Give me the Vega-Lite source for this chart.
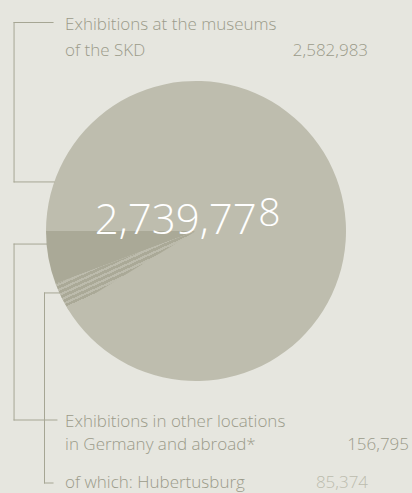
{
  "$schema": "https://vega.github.io/schema/vega-lite/v6.json",
  "width": 300,
  "height": 300,
  "autosize": {"type": "none"},
  "padding": {"left": 46, "top": 81, "right": 66, "bottom": 112},
  "background": "#e6e6df",
  "config": {
    "view": {"stroke": null},
    "axis": {"disable": true},
    "text": {"font": "Open Sans", "fontSize": 17, "fontWeight": 300, "color": "#9b9b8a", "baseline": "alphabetic", "align": "left"},
    "rule": {"color": "#a6a694", "strokeWidth": 1, "strokeCap": "square"}
  },
  "datasets": {
    "visitors": [
      {"cat": "Exhibitions at the museums of the SKD", "v": 2582983},
      {"cat": "Exhibitions in other locations in Germany and abroad*", "v": 156795}
    ],
    "hub": [
      {"cat": "Exhibitions in other locations in Germany and abroad*", "v": 156795},
      {"cat": "of which: Hubertusburg", "v": 85374}
    ]
  },
  "layer": [
    {
      "data": {"name": "visitors"},
      "mark": {"type": "arc"},
      "encoding": {
        "theta": {"field": "v", "type": "quantitative", "stack": true, "scale": {"range": [4.71238898, -1.57079633]}},
        "color": {"field": "cat", "type": "nominal", "legend": null,
          "scale": {"domain": ["Exhibitions at the museums of the SKD", "Exhibitions in other locations in Germany and abroad*"], "range": ["#bebdae", "#aaa997"]}},
        "order": {"field": "v", "sort": "ascending"}
      }
    },
    {
      "data": {"name": "hub"},
      "mark": {"type": "arc", "fill": {
        "gradient": "linear", "x1": 0.322, "y1": 0.402, "x2": 0.527, "y2": 0.659,
        "stops": [
          {"offset": 0, "color": "#aaa997"}, {"offset": 0.05, "color": "#aaa997"},
          {"offset": 0.05, "color": "#bcbbac"}, {"offset": 0.12, "color": "#bcbbac"},
          {"offset": 0.12, "color": "#aaa997"}, {"offset": 0.21, "color": "#aaa997"},
          {"offset": 0.21, "color": "#bcbbac"}, {"offset": 0.28, "color": "#bcbbac"},
          {"offset": 0.28, "color": "#aaa997"}, {"offset": 0.37, "color": "#aaa997"},
          {"offset": 0.37, "color": "#bcbbac"}, {"offset": 0.44, "color": "#bcbbac"},
          {"offset": 0.44, "color": "#aaa997"}, {"offset": 0.53, "color": "#aaa997"},
          {"offset": 0.53, "color": "#bcbbac"}, {"offset": 0.60, "color": "#bcbbac"},
          {"offset": 0.60, "color": "#aaa997"}, {"offset": 0.69, "color": "#aaa997"},
          {"offset": 0.69, "color": "#bcbbac"}, {"offset": 0.76, "color": "#bcbbac"},
          {"offset": 0.76, "color": "#aaa997"}, {"offset": 0.84, "color": "#aaa997"},
          {"offset": 0.84, "color": "#bebdae"}, {"offset": 1, "color": "#bebdae"}
        ]}},
      "encoding": {
        "theta": {"field": "v", "type": "quantitative", "stack": true},
        "detail": {"field": "cat"},
        "order": {"field": "v", "sort": "descending"},
        "opacity": {"condition": {"test": "datum.cat === 'of which: Hubertusburg'", "value": 1}, "value": 0}
      }
    },
    {"data": {"values": [{}]}, "mark": "rule", "encoding": {"x": {"datum": -1.213, "scale": {"domain": [-1, 1]}}, "x2": {"datum": -0.953}, "y": {"datum": 1.39, "scale": {"domain": [-1, 1]}}, "y2": {"datum": 1.39}}},
    {"data": {"values": [{}]}, "mark": "rule", "encoding": {"x": {"datum": -1.213}, "x2": {"datum": -1.213}, "y": {"datum": 1.39}, "y2": {"datum": 0.327}}},
    {"data": {"values": [{}]}, "mark": "rule", "encoding": {"x": {"datum": -1.213}, "x2": {"datum": -0.945}, "y": {"datum": 0.327}, "y2": {"datum": 0.327}}},
    {"data": {"values": [{}]}, "mark": "rule", "encoding": {"x": {"datum": -1.213}, "x2": {"datum": -0.996}, "y": {"datum": -0.087}, "y2": {"datum": -0.087}}},
    {"data": {"values": [{}]}, "mark": "rule", "encoding": {"x": {"datum": -1.213}, "x2": {"datum": -1.213}, "y": {"datum": -0.087}, "y2": {"datum": -1.26}}},
    {"data": {"values": [{}]}, "mark": "rule", "encoding": {"x": {"datum": -1.213}, "x2": {"datum": -0.927}, "y": {"datum": -1.26}, "y2": {"datum": -1.26}}},
    {"data": {"values": [{}]}, "mark": "rule", "encoding": {"x": {"datum": -1.01}, "x2": {"datum": -0.911}, "y": {"datum": -0.413}, "y2": {"datum": -0.413}}},
    {"data": {"values": [{}]}, "mark": "rule", "encoding": {"x": {"datum": -1.01}, "x2": {"datum": -1.01}, "y": {"datum": -0.413}, "y2": {"datum": -1.68}}},
    {"data": {"values": [{}]}, "mark": "rule", "encoding": {"x": {"datum": -1.01}, "x2": {"datum": -0.953}, "y": {"datum": -1.68}, "y2": {"datum": -1.68}}},
    {"data": {"values": [{}]}, "mark": {"type": "text", "text": "Exhibitions at the museums"}, "encoding": {"x": {"datum": -0.873}, "y": {"datum": 1.34}}},
    {"data": {"values": [{}]}, "mark": {"type": "text", "text": "of the SKD"}, "encoding": {"x": {"datum": -0.873}, "y": {"datum": 1.167}}},
    {"data": {"name": "visitors"}, "transform": [{"filter": "datum.cat === 'Exhibitions at the museums of the SKD'"}],
     "mark": {"type": "text", "align": "right"}, "encoding": {"x": {"datum": 1.147}, "y": {"datum": 1.167}, "text": {"field": "v", "type": "quantitative", "format": ","}}},
    {"data": {"values": [{}]}, "mark": {"type": "text", "text": "Exhibitions in other locations"}, "encoding": {"x": {"datum": -0.873}, "y": {"datum": -1.307}}},
    {"data": {"values": [{}]}, "mark": {"type": "text", "text": "in Germany and abroad*"}, "encoding": {"x": {"datum": -0.873}, "y": {"datum": -1.46}}},
    {"data": {"name": "visitors"}, "transform": [{"filter": "datum.cat === 'Exhibitions in other locations in Germany and abroad*'"}],
     "mark": {"type": "text", "align": "right"}, "encoding": {"x": {"datum": 1.42}, "y": {"datum": -1.46}, "text": {"field": "v", "type": "quantitative", "format": ","}}},
    {"data": {"values": [{}]}, "mark": {"type": "text", "text": "of which: Hubertusburg"}, "encoding": {"x": {"datum": -0.873}, "y": {"datum": -1.713}}},
    {"data": {"name": "hub"}, "transform": [{"filter": "datum.cat === 'of which: Hubertusburg'"}],
     "mark": {"type": "text", "align": "right", "color": "#bcbcae"}, "encoding": {"x": {"datum": 1.147}, "y": {"datum": -1.713}, "text": {"field": "v", "type": "quantitative", "format": ","}}},
    {"data": {"values": [{}]}, "mark": {"type": "text", "text": "2,739,77", "align": "right", "fontSize": 42, "color": "#ffffff"}, "encoding": {"x": {"datum": 0.405}, "y": {"datum": -0.02}}},
    {"data": {"values": [{}]}, "mark": {"type": "text", "text": "8", "align": "left", "fontSize": 39, "color": "#ffffff"}, "encoding": {"x": {"datum": 0.415}, "y": {"datum": 0.033}}}
  ]
}
